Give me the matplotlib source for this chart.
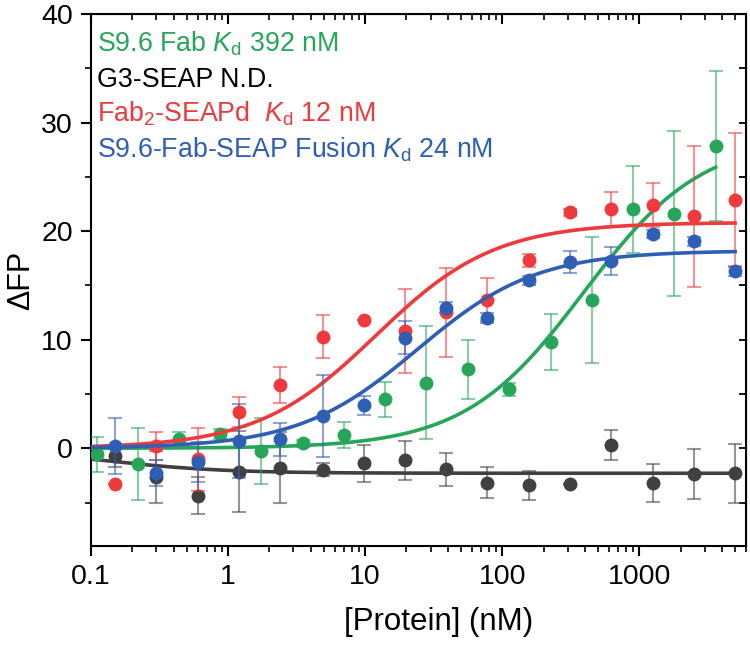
import numpy as np
import matplotlib
matplotlib.use("Agg")
import matplotlib.pyplot as plt

plt.rcParams['font.family'] = ['Liberation Sans', 'DejaVu Sans']
plt.rcParams['mathtext.fontset'] = 'custom'
plt.rcParams['mathtext.rm'] = 'Liberation Sans'
plt.rcParams['mathtext.it'] = 'Liberation Sans:italic'

# concentrations (nM)
conc_fab = [0.11, 0.22, 0.44, 0.88, 1.75, 3.5, 7, 14, 28, 56, 112, 225, 450, 900, 1800, 3600]
conc_other = [0.15, 0.3, 0.6, 1.2, 2.4, 4.9, 9.8, 19.5, 39, 78, 156, 312, 625, 1250, 2500, 5000]

# S9.6 Fab (green)
fab_y = [-0.55, -1.47, 0.89, 1.32, -0.25, 0.46, 1.23, 4.5, 6.04, 7.26, 5.43, 9.78, 13.64, 22.0, 21.6, 27.86]
fab_err = [1.6, 3.3, 0.6, 0.5, 3.0, 0.3, 1.2, 1.6, 5.2, 2.7, 0.6, 2.6, 5.8, 4.0, 7.6, 6.9]

# G3-SEAP (grey)
g3_y = [-0.7, -2.64, -4.38, -2.15, -1.78, -1.99, -1.38, -1.1, -1.93, -3.16, -3.4, -3.31, 0.31, -3.16, -2.39, -2.3]
g3_err = [1.0, 2.4, 1.7, 3.7, 3.3, 0.6, 1.7, 1.8, 1.5, 1.4, 1.35, 0.0, 1.4, 1.75, 2.3, 2.7]

# Fab2-SEAPd (red)
fab2_y = [-3.25, 0.22, -1.0, 3.34, 5.83, 10.27, 11.77, 10.79, 12.53, 13.7, 17.3, 21.73, 22.0, 22.4, 21.36, 22.9]
fab2_err = [0.0, 1.3, 2.9, 1.4, 1.7, 2.0, 0.0, 3.9, 4.1, 2.0, 0.6, 0.3, 1.6, 2.0, 6.5, 6.1]

# S9.6-Fab-SEAP fusion (blue)
fus_y = [0.21, -2.24, -1.26, 0.67, 0.83, 2.97, 3.95, 10.18, 12.94, 12.0, 15.48, 17.17, 17.23, 19.74, 19.07, 16.3]
fus_err = [2.6, 1.2, 1.8, 3.4, 1.5, 3.8, 0.9, 1.5, 0.5, 0.5, 0.4, 1.0, 1.3, 0.4, 0.4, 0.4]

# fit parameters (Bmax, Kd)
fit_fab = (28.7, 392.0)
fit_g3 = (-2.3, 0.13)
fit_fab2 = (20.8, 12.0)
fit_fus = (18.2, 24.0)

c_green = '#27a65a'
c_grey = '#404040'
c_red = '#ee3a3c'
c_blue = '#2e5fb5'

fig = plt.figure(figsize=(7.5, 6.49), dpi=100)
ax = fig.add_axes([91 / 750, 1 - 546 / 649, (746 - 91) / 750, (546 - 14) / 649])


def hill(x, p):
    return p[0] * x / (p[1] + x)


series = [
    (conc_other, g3_y, g3_err, fit_g3, c_grey, 0.1, 5000),
    (conc_fab, fab_y, fab_err, fit_fab, c_green, 0.1, 3600),
    (conc_other, fab2_y, fab2_err, fit_fab2, c_red, 0.1, 5000),
    (conc_other, fus_y, fus_err, fit_fus, c_blue, 0.1, 5000),
]
for i, (xs, ys, es, p, col, x0, x1) in enumerate(series):
    ax.errorbar(xs, ys, yerr=es, fmt='none', ecolor=col, alpha=0.55, elinewidth=1.5,
                capsize=5, capthick=1.5, zorder=2 + i)
    xx = np.logspace(np.log10(x0), np.log10(x1), 300)
    ax.plot(xx, hill(xx, p), color=col, lw=2.6, zorder=3 + i)
    ax.plot(xs, ys, 'o', color=col, ms=10, mec='none', zorder=4 + i)

ax.set_xscale('log')
ax.set_xlim(0.1, 6000)
ax.set_ylim(-9, 40)
ax.set_xticks([0.1, 1, 10, 100, 1000])
ax.set_xticklabels(['0.1', '1', '10', '100', '1000'])
ax.set_yticks([0, 10, 20, 30, 40])
ax.set_yticks([-5, 5, 15, 25, 35], minor=True)

for s in ax.spines.values():
    s.set_linewidth(1.5)
ax.tick_params(which='major', direction='out', length=7, width=1.5, labelsize=20.5, pad=6)
ax.tick_params(which='minor', direction='out', length=4, width=1.2)

top = ax.secondary_xaxis('top')
top.set_xticks([0.1, 1, 10, 100, 1000])
top.tick_params(which='major', direction='in', length=7, width=1.5, labeltop=False)
top.tick_params(which='minor', direction='in', length=4, width=1.2)
right = ax.secondary_yaxis('right')
right.set_yticks([0, 10, 20, 30, 40])
right.set_yticks([-5, 5, 15, 25, 35], minor=True)
right.tick_params(which='both', direction='in', length=5, width=1.3, labelright=False)

ax.set_xlabel('[Protein] (nM)', fontsize=22.5, labelpad=12)
ax.xaxis.set_label_coords(0.53, -0.115)
ax.set_ylabel('ΔFP', fontsize=22, labelpad=4)

legend_lines = [
    (r'S9.6 Fab $K_\mathrm{d}$ 392 nM', c_green, 52),
    ('G3-SEAP N.D.', 'black', 87),
    (r'Fab$_2$-SEAPd  $K_\mathrm{d}$ 12 nM', c_red, 122),
    (r'S9.6-Fab-SEAP Fusion $K_\mathrm{d}$ 24 nM', c_blue, 158),
]
for txt, col, yb in legend_lines:
    fig.text(97 / 750, 1 - yb / 649, txt, color=col, fontsize=19.3, va='baseline', ha='left')

fig.savefig('out.png', dpi=100)
